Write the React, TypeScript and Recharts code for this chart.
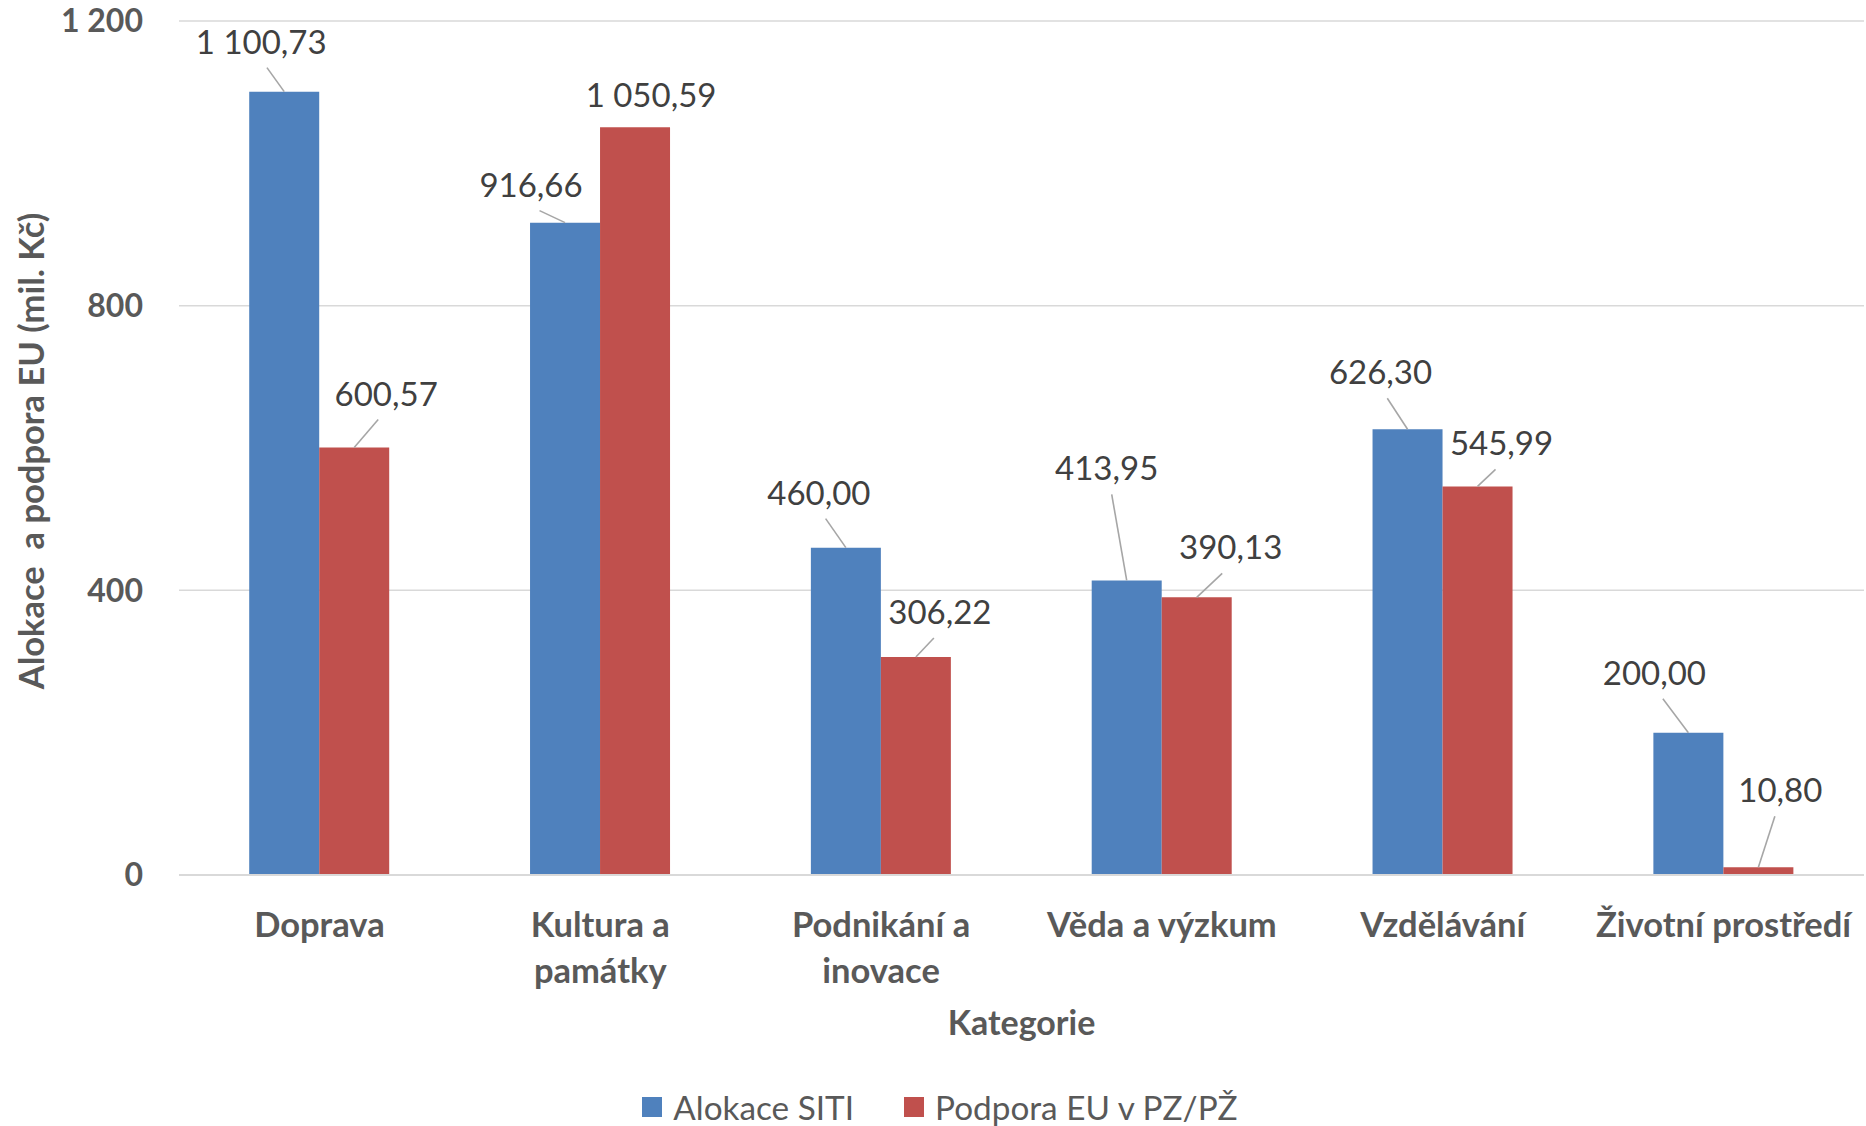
import React from 'react';
import { BarChart, Bar, XAxis, YAxis, CartesianGrid, LabelList, Label } from 'recharts';

const categories = ['Doprava', 'Kultura a památky', 'Podnikání a inovace', 'Věda a výzkum', 'Vzdělávání', 'Životní prostředí'];
const alokaceSITI = [1100.73, 916.66, 460.0, 413.95, 626.3, 200.0];
const podporaEU = [600.57, 1050.59, 306.22, 390.13, 545.99, 10.8];
const yTicks = [0, 400, 800, 1200];
const seriesNames = ['Alokace SITI', 'Podpora EU v PZ/PŽ'];
const xTitle = 'Kategorie';
const yTitle = 'Alokace  a podpora EU (mil. Kč)';

// label offsets relative to bar top centre (layout, not data)
const labelOffsetsSITI = [[-23, -51], [-34, -39], [-27, -56], [-20, -113], [-27, -58], [-34, -61]];
const labelOffsetsPodpora = [[32, -55], [16, -33], [24, -46], [34, -51], [24, -44], [22, -78]];

const data = categories.map((c, i) => ({ name: c, siti: alokaceSITI[i], podpora: podporaEU[i] }));

const FONT = 'Lato, "Open Sans", sans-serif';
const BLUE = '#4F81BD';
const RED = '#C0504D';
const AXIS_TEXT = '#595959';
const LABEL_TEXT = '#404040';

const fmtThousands = (n: number) => {
  const s = String(Math.round(n));
  return s.replace(/\B(?=(\d{3})+(?!\d))/g, ' ');
};
const fmtValue = (v: number) => {
  const [i, d] = v.toFixed(2).split('.');
  return fmtThousands(Number(i)) + ',' + d;
};

let ctx: CanvasRenderingContext2D | null = null;
const measure = (t: string, font: string) => {
  if (!ctx) ctx = document.createElement('canvas').getContext('2d');
  if (!ctx) return t.length * 16;
  ctx.font = font;
  return ctx.measureText(t).width;
};
const wrap = (text: string, maxW: number, font: string) => {
  const words = text.split(' ');
  const lines: string[] = [];
  let cur = '';
  words.forEach((w) => {
    const test = cur ? cur + ' ' + w : w;
    if (cur && measure(test, font) > maxW) {
      lines.push(cur);
      cur = w;
    } else cur = test;
  });
  if (cur) lines.push(cur);
  return lines;
};

const CAT_SIZE = 34.5;

const CatTick = (props: any) => {
  const { x, y, payload } = props;
  const font = `bold ${CAT_SIZE}px Lato`;
  const lines = wrap(String(payload.value), 267, font);
  return (
    <g>
      {lines.map((l, k) => (
        <text key={k} x={x} y={y + 48 + k * 46} textAnchor="middle" dominantBaseline="central"
          fontFamily={FONT} fontWeight="bold" fontSize={CAT_SIZE} fill={AXIS_TEXT}>{l}</text>
      ))}
    </g>
  );
};

const makeLabel = (offsets: number[][]) => (props: any) => {
  const { x, y, width, value, index } = props;
  const cx = x + width / 2;
  const top = y;
  const [dx, dy] = offsets[index] || [0, -30];
  const lx = cx + dx;
  const ly = top + dy;
  const ex = lx - dx * 0.25;
  const ey = ly + 27;
  const len = Math.hypot(ex - cx, ey - top);
  return (
    <g>
      {len > 15 && ey < top ? (
        <line x1={cx} y1={top} x2={ex} y2={ey} stroke="#A6A6A6" strokeWidth={1.6} />
      ) : null}
      <text x={lx} y={ly} textAnchor="middle" dominantBaseline="central" fontFamily={FONT}
        fontSize={33} fill={LABEL_TEXT}>{fmtValue(Number(value))}</text>
    </g>
  );
};

export default function App() {
  return (
    <div style={{ position: 'absolute', left: 0, top: 0, width: 1866, height: 1126, background: '#fff' }}>
      <BarChart width={1866} height={1126} data={data}
        margin={{ top: 21, right: 2, left: 0, bottom: 101 }}
        barCategoryGap="25%" barGap={0}>
        <CartesianGrid vertical={false} stroke="#D9D9D9" strokeWidth={1.5} />
        <XAxis dataKey="name" height={150} tickLine={false} tickSize={0} tickMargin={0}
          axisLine={{ stroke: '#D9D9D9', strokeWidth: 2 }} tick={<CatTick />} interval={0}>
          <Label content={(p: any) => {
            const vb = p.viewBox;
            return (
              <text x={vb.x + vb.width / 2} y={1021} textAnchor="middle" dominantBaseline="central"
                fontFamily={FONT} fontWeight="bold" fontSize={34} fill={AXIS_TEXT}>{xTitle}</text>
            );
          }} />
        </XAxis>
        <YAxis width={179} domain={[0, 1200]} ticks={yTicks} axisLine={false} tickLine={false}
          tickSize={0} tickMargin={36} tickFormatter={(v: number) => fmtThousands(v)}
          tick={{ fontFamily: FONT, fontWeight: 'bold', fontSize: 32, fill: AXIS_TEXT }}>
          <Label content={(p: any) => {
            const vb = p.viewBox;
            const cy = vb.y + vb.height / 2 + 3;
            return (
              <text x={30} y={cy} textAnchor="middle" dominantBaseline="central"
                transform={`rotate(-90, 30, ${cy})`} fontFamily={FONT} fontWeight="bold"
                fontSize={34.5} fill={AXIS_TEXT} style={{ whiteSpace: 'pre' }}>{yTitle}</text>
            );
          }} />
        </YAxis>
        <Bar dataKey="siti" name={seriesNames[0]} fill={BLUE} isAnimationActive={false}>
          <LabelList dataKey="siti" content={makeLabel(labelOffsetsSITI)} />
        </Bar>
        <Bar dataKey="podpora" name={seriesNames[1]} fill={RED} isAnimationActive={false}>
          <LabelList dataKey="podpora" content={makeLabel(labelOffsetsPodpora)} />
        </Bar>
      </BarChart>
      <div style={{ position: 'absolute', top: 1088, left: 0, width: 1866, boxSizing: 'border-box', paddingLeft: 14,
        display: 'flex', justifyContent: 'center',
        fontFamily: FONT, fontSize: 33.3, color: AXIS_TEXT, lineHeight: '38px' }}>
        {seriesNames.map((n, i) => (
          <div key={n} style={{ display: 'flex', alignItems: 'center', marginLeft: i ? 50 : 0 }}>
            <span style={{ width: 20, minWidth: 20, height: 20, background: i ? RED : BLUE, display: 'inline-block', marginRight: 11 }} />
            <span>{n}</span>
          </div>
        ))}
      </div>
    </div>
  );
}
